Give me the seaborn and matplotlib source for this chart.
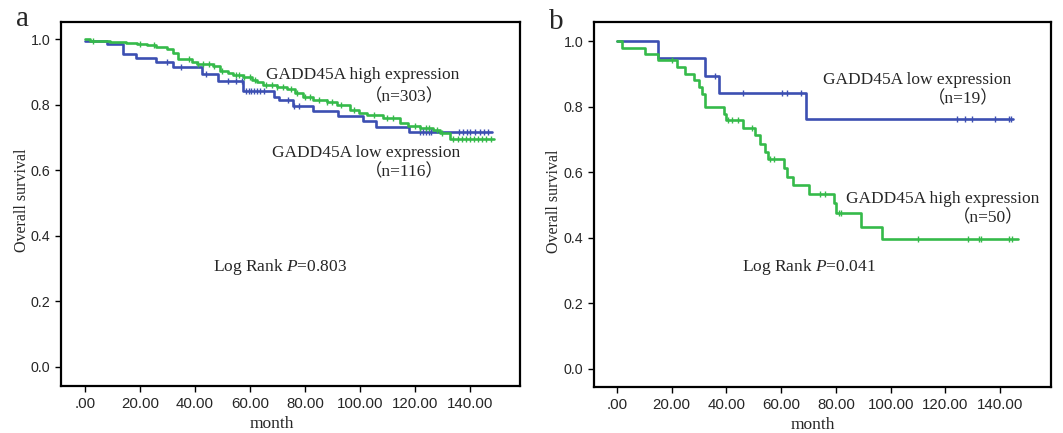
import numpy as np
import pandas as pd
import matplotlib
matplotlib.use("Agg")
import matplotlib.pyplot as plt
import seaborn as sns

# ---------------- data ----------------
# Panel a
a_low_t = [0, 7.9, 13.9, 18.5, 25.8, 31.9, 42.4, 48.5, 57.5, 68.8, 70.7, 75.8, 83.0, 92.1, 101.0, 106.0, 118.0]
a_low_s = [0.993, 0.985, 0.953, 0.941, 0.931, 0.914, 0.894, 0.873, 0.843, 0.824, 0.813, 0.797, 0.782, 0.764, 0.749, 0.733, 0.716]
a_low_end = 147.9
a_low_cens = [30, 35, 44, 52, 55, 57, 58.5, 59.5, 60.5, 61.5, 62.5, 63.5, 65, 74, 76, 78,
              122, 123, 124, 125, 126, 136, 137.5, 139, 140, 142, 143.5, 145, 146.5]

a_high_t = [0, 2, 9, 15, 19, 22.4, 26, 29.7, 32, 34, 38.8, 40.6, 46.7, 49, 52, 54, 57.6, 60.6, 62.5,
            64.8, 69.7, 73.3, 76.4, 79.4, 83, 87.9, 91.5, 96.4, 99.5, 102.4, 108.5, 114.5, 117.6,
            121.8, 126.7, 129, 132.7]
a_high_s = [1.0, 0.995, 0.992, 0.989, 0.986, 0.982, 0.975, 0.969, 0.958, 0.940, 0.931, 0.924, 0.918,
            0.904, 0.897, 0.890, 0.883, 0.875, 0.868, 0.860, 0.853, 0.847, 0.837, 0.824, 0.814,
            0.809, 0.798, 0.784, 0.776, 0.769, 0.758, 0.745, 0.735, 0.728, 0.723, 0.715, 0.694]
a_high_end = 148.8
a_high_cens = [3, 20, 25, 38, 41, 43, 45, 47, 50, 55, 56, 58, 60, 62, 66, 68, 70, 72, 75, 77, 80, 82,
               85, 88, 90, 93, 98, 105, 110, 112, 120, 122, 124, 125, 128, 130,
               134, 135.5, 137, 138.5, 140, 141.5, 143, 144.5, 146, 147.5]

# Panel b
b_low_t = [0, 15.1, 32.3, 37.2, 69.0]
b_low_s = [1.0, 0.947, 0.894, 0.842, 0.763]
b_low_end = 144.8
b_low_cens = [35.9, 46.1, 60.3, 62.0, 67.1, 124.3, 127.2, 129.6, 138.3, 143.2, 143.9]

b_high_t = [0, 1.9, 10.1, 15.1, 21.9, 25.0, 28.0, 30.1, 31.1, 32.0, 39.0, 40.0, 46.1, 50.3, 52.2,
            54.2, 55.2, 61.0, 62.1, 64.3, 70.2, 79.2, 79.9, 89.1, 97.0]
b_high_s = [1.0, 0.980, 0.960, 0.941, 0.921, 0.900, 0.881, 0.861, 0.838, 0.798, 0.777, 0.759,
            0.736, 0.712, 0.686, 0.663, 0.640, 0.614, 0.586, 0.560, 0.534, 0.507, 0.475, 0.434, 0.395]
b_high_end = 146.6
b_high_cens = [20.1, 40.7, 42.0, 44.2, 49.3, 55.8, 57.4, 74.1, 75.9, 81.1, 82.0, 110.0, 128.3,
               132.2, 133.2, 143.2, 144.4]

x_ticks = [0, 20, 40, 60, 80, 100, 120, 140]
x_labels = [".00", "20.00", "40.00", "60.00", "80.00", "100.00", "120.00", "140.00"]
y_ticks = [0.0, 0.2, 0.4, 0.6, 0.8, 1.0]
y_labels = ["0.0", "0.2", "0.4", "0.6", "0.8", "1.0"]

BLUE = "#3C4FB2"
GREEN = "#35BA4A"

# ---------------- style ----------------
sns.set_style("ticks")
plt.rcParams["font.family"] = ["Liberation Serif", "Noto Sans CJK SC", "DejaVu Sans"]
plt.rcParams["mathtext.fontset"] = "custom"
plt.rcParams["mathtext.it"] = "Liberation Serif:italic"
plt.rcParams["mathtext.rm"] = "Liberation Serif"
plt.rcParams["mathtext.default"] = "rm"

fig = plt.figure(figsize=(10.63, 4.33), dpi=100)
ax_a = fig.add_axes([61 / 1063, 1 - 386 / 433, 459 / 1063, 364 / 433])
ax_b = fig.add_axes([594 / 1063, 1 - 387 / 433, 457 / 1063, 365 / 433])

SERIF = ["Liberation Serif", "Noto Sans CJK SC"]
TXT = 12.5


def km(ax, t, s, end, cens, color):
    tt = list(t) + [end]
    ss = list(s) + [s[-1]]
    df = pd.DataFrame({"t": tt, "s": ss})
    sns.lineplot(data=df, x="t", y="s", ax=ax, color=color, lw=1.9,
                 drawstyle="steps-post", estimator=None, sort=False)
    idx = np.searchsorted(np.array(t), np.array(cens), side="right") - 1
    cdf = pd.DataFrame({"t": cens, "s": np.array(s)[idx]})
    sns.scatterplot(data=cdf, x="t", y="s", ax=ax, marker="|", color=color,
                    s=22, linewidth=1.0, zorder=3)


def style(ax, xlim, ylim, xlab_x, ylab_x):
    ax.set_xlim(*xlim)
    ax.set_ylim(*ylim)
    ax.set_xticks(x_ticks)
    ax.set_xticklabels(x_labels, fontfamily="Liberation Sans", fontsize=10.8)
    ax.set_yticks(y_ticks)
    ax.set_yticklabels(y_labels, fontfamily="Liberation Sans", fontsize=10.3)
    ax.tick_params(axis="x", direction="out", length=4, width=1, pad=4, color="black")
    ax.tick_params(axis="y", direction="out", length=4, width=1, pad=3.5, color="black")
    for sp in ax.spines.values():
        sp.set_visible(True)
        sp.set_linewidth(1.6)
        sp.set_color("black")
    ax.set_xlabel("month", fontfamily=SERIF, fontsize=12.5)
    ax.set_ylabel("Overall survival", fontfamily=SERIF, fontsize=11.5)
    ax.xaxis.set_label_coords(xlab_x, -0.105)
    ax.xaxis.label.set_va("center")
    ax.yaxis.label.set_va("center")
    ax.yaxis.set_label_coords(ylab_x, 0.51)


# Panel a
km(ax_a, a_low_t, a_low_s, a_low_end, a_low_cens, BLUE)
km(ax_a, a_high_t, a_high_s, a_high_end, a_high_cens, GREEN)
style(ax_a, (-8.7, 158.2), (-0.058, 1.052), 0.46, -0.086)
ax_a.text(65.8, 0.89, "GADD45A high expression", fontsize=TXT, family=SERIF, va="center")
ax_a.text(101.8, 0.823, "（n=303）", fontsize=TXT, family=SERIF, va="center")
ax_a.text(68.0, 0.652, "GADD45A low expression", fontsize=TXT, family=SERIF, va="center")
ax_a.text(101.8, 0.595, "（n=116）", fontsize=TXT, family=SERIF, va="center")
ax_a.text(46.7, 0.305, "Log Rank $\\it{P}$=0.803", fontsize=TXT, family=SERIF, va="center")

# Panel b
km(ax_b, b_low_t, b_low_s, b_low_end, b_low_cens, BLUE)
km(ax_b, b_high_t, b_high_s, b_high_end, b_high_cens, GREEN)
style(ax_b, (-8.4, 158.6), (-0.055, 1.058), 0.479, -0.088)
ax_b.text(75.3, 0.881, "GADD45A low expression", fontsize=TXT, family=SERIF, va="center")
ax_b.text(113.5, 0.823, "（n=19）", fontsize=TXT, family=SERIF, va="center")
ax_b.text(83.6, 0.517, "GADD45A high expression", fontsize=TXT, family=SERIF, va="center")
ax_b.text(122.8, 0.459, "（n=50）", fontsize=TXT, family=SERIF, va="center")
ax_b.text(45.7, 0.312, "Log Rank $\\it{P}$=0.041", fontsize=TXT, family=SERIF, va="center")

fig.text(16 / 1063, 1 - 26 / 433, "a", fontsize=21, family=SERIF, va="baseline")
fig.text(549 / 1063, 1 - 29 / 433, "b", fontsize=21, family=SERIF, va="baseline")

fig.savefig("out.png", dpi=100, facecolor="white")
